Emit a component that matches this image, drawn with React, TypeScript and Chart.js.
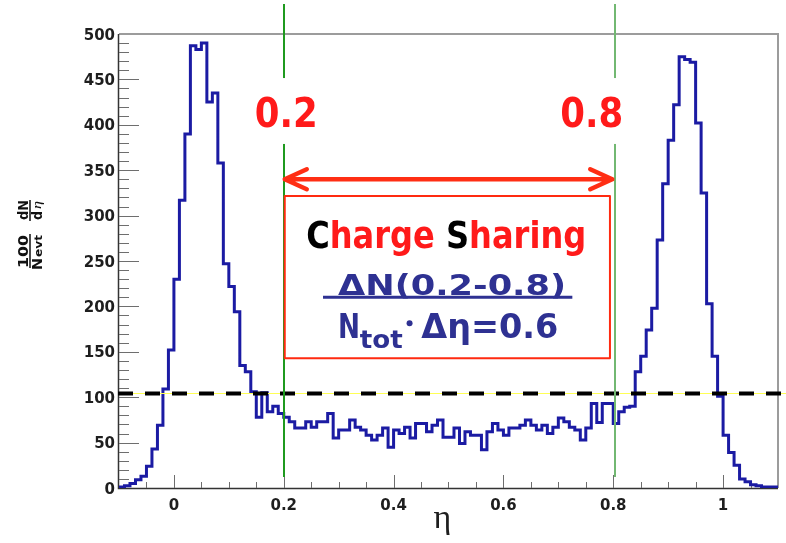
import React, { useEffect, useRef } from "react";
import { Chart, registerables } from "chart.js";

Chart.register(...registerables);

// ---- histogram data (eta bins of width 0.01 starting at -0.10) ----
const binLow = -0.1;
const binWidth = 0.01;
const counts: number[] = [
  // -0.10 .. -0.01
  0.5, 1, 2.5, 5, 9, 13, 24, 43, 69, 109,
  // 0.00 .. 0.09
  152, 230, 317, 390, 487, 483, 490, 425, 435, 358,
  // 0.10 .. 0.19
  247, 222, 194, 135, 128, 106, 78, 105, 84, 90,
  // 0.20 .. 0.29
  82, 78, 73, 66, 66, 73, 67, 73, 73, 82,
  // 0.30 .. 0.39
  55, 64, 64, 75, 67, 64, 58, 53, 58, 66,
  // 0.40 .. 0.49
  45, 64, 60, 67, 55, 71, 71, 62, 69, 75,
  // 0.50 .. 0.59
  56, 56, 66, 49, 62, 58, 58, 42, 62, 71,
  // 0.60 .. 0.69
  64, 58, 66, 66, 69, 75, 69, 64, 69, 60,
  // 0.70 .. 0.79
  67, 77, 73, 67, 64, 53, 66, 93, 72, 93,
  // 0.80 .. 0.89
  93, 71, 84, 89, 90, 128, 145, 174, 198, 273,
  // 0.90 .. 0.99
  335, 383, 422, 475, 472, 469, 402, 325, 203, 145,
  // 1.00 .. 1.09
  101, 58, 39, 25, 10, 7, 3.5, 2.5, 1, 1,
];

const xMin = -0.1;
const xMax = 1.1;
const yMin = 0;
const yMax = 500;
const yTickValues = [0, 50, 100, 150, 200, 250, 300, 350, 400, 450, 500];
const yMinorStep = 10;
const xTickValues = [0, 0.2, 0.4, 0.6, 0.8, 1];
const xTickLabels = ["0", "0.2", "0.4", "0.6", "0.8", "1"];
const xMinorStep = 0.05;

// annotation values (data coordinates)
const cutLow = 0.2;
const cutHigh = 0.803;
const cutLabels = ["0.2", "0.8"];
const plateauLevel = 105;
const arrowLevel = 340;

const SANS = '"DejaVu Sans", "Liberation Sans", sans-serif';
const RED = "#ff1a1a";
const BLUE = "#2e3192";

function drawFitted(
  ctx: CanvasRenderingContext2D,
  segments: [string, string][],
  font: string,
  left: number,
  baseline: number,
  width: number
) {
  ctx.font = font;
  const total = segments.reduce((s, [t]) => s + ctx.measureText(t).width, 0);
  const sx = width / total;
  ctx.save();
  ctx.translate(left, baseline);
  ctx.scale(sx, 1);
  ctx.textAlign = "left";
  ctx.textBaseline = "alphabetic";
  let x = 0;
  for (const [t, c] of segments) {
    ctx.fillStyle = c;
    ctx.fillText(t, x, 0);
    x += ctx.measureText(t).width;
  }
  ctx.restore();
}

const rootStyle = {
  id: "rootStyle",
  beforeDraw(chart: any) {
    const ctx: CanvasRenderingContext2D = chart.ctx;
    ctx.save();
    ctx.fillStyle = "#ffffff";
    ctx.fillRect(0, 0, chart.width, chart.height);
    ctx.restore();
  },
  beforeDatasetsDraw(chart: any) {
    const ctx: CanvasRenderingContext2D = chart.ctx;
    const { left, right, top, bottom } = chart.chartArea;
    const xs = chart.scales.x;
    const ys = chart.scales.y;
    ctx.save();
    // frame
    ctx.strokeStyle = "#9c9c9c";
    ctx.lineWidth = 2;
    ctx.beginPath();
    ctx.moveTo(left, top);
    ctx.lineTo(right, top);
    ctx.lineTo(right, bottom);
    ctx.stroke();
    // axes
    ctx.strokeStyle = "#333333";
    ctx.lineWidth = 1.5;
    ctx.beginPath();
    ctx.moveTo(left - 0.5, top);
    ctx.lineTo(left - 0.5, bottom + 0.5);
    ctx.lineTo(right, bottom + 0.5);
    ctx.stroke();
    // y ticks
    ctx.strokeStyle = "#6e6e6e";
    ctx.lineWidth = 1;
    for (let v = yMin + yMinorStep; v < yMax; v += yMinorStep) {
      const y = Math.round(ys.getPixelForValue(v)) + 0.5;
      const len = v % 50 === 0 ? 20 : 10;
      ctx.beginPath();
      ctx.moveTo(left, y);
      ctx.lineTo(left + len, y);
      ctx.stroke();
    }
    // x ticks
    for (let k = -1; k <= 21; k++) {
      const e = k * xMinorStep;
      const x = Math.round(xs.getPixelForValue(e)) + 0.5;
      const major = k % 4 === 0 && k >= 0 && k <= 20;
      const len = major ? 13 : 6;
      ctx.beginPath();
      ctx.moveTo(x, bottom);
      ctx.lineTo(x, bottom - len);
      ctx.stroke();
    }
    // y tick labels
    ctx.fillStyle = "#1e1e1e";
    ctx.font = `bold 15px ${SANS}`;
    ctx.textAlign = "right";
    ctx.textBaseline = "alphabetic";
    for (const v of yTickValues) {
      const y = ys.getPixelForValue(v);
      ctx.fillText(String(v), left - 4, y + 5.5);
    }
    // x tick labels
    ctx.textAlign = "center";
    xTickValues.forEach((e, i) => {
      const x = xs.getPixelForValue(e);
      ctx.fillText(xTickLabels[i], x, bottom + 22);
    });
    // x title
    ctx.font = `34px "Liberation Serif", "DejaVu Serif", serif`;
    ctx.fillStyle = "#1e1e1e";
    ctx.fillText("\u03b7", (left + right) / 2 - 6, bottom + 40);
    // y title (rotated fraction)
    ctx.translate(30, 251);
    ctx.rotate(-Math.PI / 2);
    ctx.fillStyle = "#111111";
    drawFitted(ctx, [["100", "#111"]], `bold 14px ${SANS}`, -17, -2, 33);
    drawFitted(ctx, [["dN", "#111"]], `bold 14px ${SANS}`, 31, -2, 20);
    drawFitted(ctx, [["N", "#111"]], `bold 14px ${SANS}`, -19, 12, 12);
    drawFitted(ctx, [["evt", "#111"]], `bold 10px ${SANS}`, -6, 12, 22);
    drawFitted(ctx, [["d", "#111"]], `bold 14px ${SANS}`, 31, 12, 9);
    drawFitted(ctx, [["\u03b7", "#111"]], `italic 13px "Liberation Serif", serif`, 42, 11, 8);
    ctx.strokeStyle = "#111";
    ctx.lineWidth = 1.5;
    ctx.beginPath();
    ctx.moveTo(-17, 0);
    ctx.lineTo(17, 0);
    ctx.moveTo(30, 0);
    ctx.lineTo(51, 0);
    ctx.stroke();
    ctx.restore();
  },
  afterDatasetsDraw(chart: any) {
    const ctx: CanvasRenderingContext2D = chart.ctx;
    const { left } = chart.chartArea;
    const xs = chart.scales.x;
    const ys = chart.scales.y;
    const X = (e: number) => xs.getPixelForValue(e);
    const Y = (v: number) => ys.getPixelForValue(v);
    ctx.save();

    // dashed plateau line
    const yd = Math.round(Y(plateauLevel)) + 0.5;
    ctx.strokeStyle = "#ffff55";
    ctx.lineWidth = 1;
    ctx.beginPath();
    ctx.moveTo(left - 1, yd);
    ctx.lineTo(chart.width, yd);
    ctx.stroke();
    ctx.strokeStyle = "#000000";
    ctx.lineWidth = 4;
    ctx.setLineDash([15, 12]);
    ctx.beginPath();
    ctx.moveTo(left - 1, yd);
    ctx.lineTo(chart.width, yd);
    ctx.stroke();
    ctx.setLineDash([]);

    // green cut lines
    const gTop = Y(533);
    const gBot = Y(12);
    ctx.lineWidth = 2;
    ctx.strokeStyle = "#1f9a1f";
    ctx.beginPath();
    ctx.moveTo(Math.round(X(cutLow)), gTop);
    ctx.lineTo(Math.round(X(cutLow)), gBot);
    ctx.stroke();
    ctx.strokeStyle = "#72b872";
    ctx.beginPath();
    ctx.moveTo(Math.round(X(cutHigh)), gTop);
    ctx.lineTo(Math.round(X(cutHigh)), gBot);
    ctx.stroke();

    // cut labels with white background
    const labelPos = [0.2045, 0.761];
    labelPos.forEach((e, i) => {
      const cx = X(e);
      ctx.fillStyle = "#ffffff";
      ctx.fillRect(cx - 38, Y(451.5), 76, Y(378.9) - Y(451.5));
      drawFitted(ctx, [[cutLabels[i], RED]], `bold 40px ${SANS}`, cx - 31.5, Y(398), 63);
    });

    // double arrow
    const ya = Y(arrowLevel);
    const xa1 = X(cutLow);
    const xa2 = X(0.8);
    ctx.strokeStyle = "#ff2e14";
    ctx.lineWidth = 4.5;
    ctx.lineCap = "round";
    ctx.lineJoin = "round";
    ctx.beginPath();
    ctx.moveTo(xa1 + 1, ya);
    ctx.lineTo(xa2 - 1, ya);
    ctx.moveTo(xa1 + 23, ya - 10);
    ctx.lineTo(xa1 + 1, ya);
    ctx.lineTo(xa1 + 23, ya + 10);
    ctx.moveTo(xa2 - 23, ya - 10);
    ctx.lineTo(xa2 - 1, ya);
    ctx.lineTo(xa2 - 23, ya + 10);
    ctx.stroke();

    // box
    const bx1 = X(0.2018);
    const bx2 = X(0.794);
    const by1 = Y(321.6);
    const by2 = Y(142.8);
    ctx.fillStyle = "#ffffff";
    ctx.fillRect(bx1, by1, bx2 - bx1, by2 - by1);
    ctx.strokeStyle = "#ff2a10";
    ctx.lineWidth = 2;
    ctx.strokeRect(bx1, by1, bx2 - bx1, by2 - by1);

    // box texts
    drawFitted(
      ctx,
      [
        ["C", "#000000"],
        ["harge ", RED],
        ["S", "#000000"],
        ["haring", RED],
      ],
      `bold 38px ${SANS}`,
      X(0.4958) - 140,
      Y(264),
      280
    );
    drawFitted(ctx, [["\u0394N(0.2-0.8)", BLUE]], `bold 29px ${SANS}`, X(0.5064) - 114, Y(212.6), 228);
    ctx.strokeStyle = BLUE;
    ctx.lineWidth = 3;
    ctx.lineCap = "butt";
    ctx.beginPath();
    ctx.moveTo(X(0.2715), Y(210));
    ctx.lineTo(X(0.7255), Y(210));
    ctx.stroke();
    drawFitted(ctx, [["N", BLUE]], `bold 34px ${SANS}`, X(0.2987), Y(164.9), 22);
    drawFitted(ctx, [["tot", BLUE]], `bold 24px ${SANS}`, X(0.3382), Y(154.2), 43);
    ctx.fillStyle = BLUE;
    ctx.beginPath();
    ctx.arc(X(0.4291), Y(181.4), 3, 0, Math.PI * 2);
    ctx.fill();
    drawFitted(ctx, [["\u0394\u03b7=0.6", BLUE]], `bold 34px ${SANS}`, X(0.4504), Y(164.9), 137);

    ctx.restore();
  },
};

export default function App() {
  const ref = useRef<HTMLCanvasElement | null>(null);
  useEffect(() => {
    const canvas = ref.current;
    if (!canvas) return;
    const points = counts.map((c, i) => ({ x: binLow + i * binWidth, y: c }));
    points.push({ x: binLow + counts.length * binWidth, y: counts[counts.length - 1] });
    const chart = new Chart(canvas, {
      type: "line",
      data: {
        datasets: [
          {
            data: points,
            stepped: "after",
            borderColor: "#1b1ba3",
            borderWidth: 3,
            pointRadius: 0,
            fill: false,
          } as any,
        ],
      },
      options: {
        animation: false,
        responsive: false,
        devicePixelRatio: 1,
        layout: { padding: { top: 34, right: 8, left: 0, bottom: 0 } },
        plugins: { legend: { display: false }, tooltip: { enabled: false } },
        scales: {
          x: {
            type: "linear",
            min: xMin,
            max: xMax,
            grid: { display: false },
            border: { display: false },
            ticks: { display: false },
            afterFit: (s: any) => {
              s.height = 55;
            },
          },
          y: {
            type: "linear",
            min: yMin,
            max: yMax,
            grid: { display: false },
            border: { display: false },
            ticks: { display: false },
            afterFit: (s: any) => {
              s.width = 119;
            },
          },
        },
      },
      plugins: [rootStyle as any],
    });
    return () => chart.destroy();
  }, []);
  return (
    <div style={{ position: "fixed", left: 0, top: 0, width: 786, height: 543 }}>
      <canvas ref={ref} width={786} height={543} />
    </div>
  );
}
